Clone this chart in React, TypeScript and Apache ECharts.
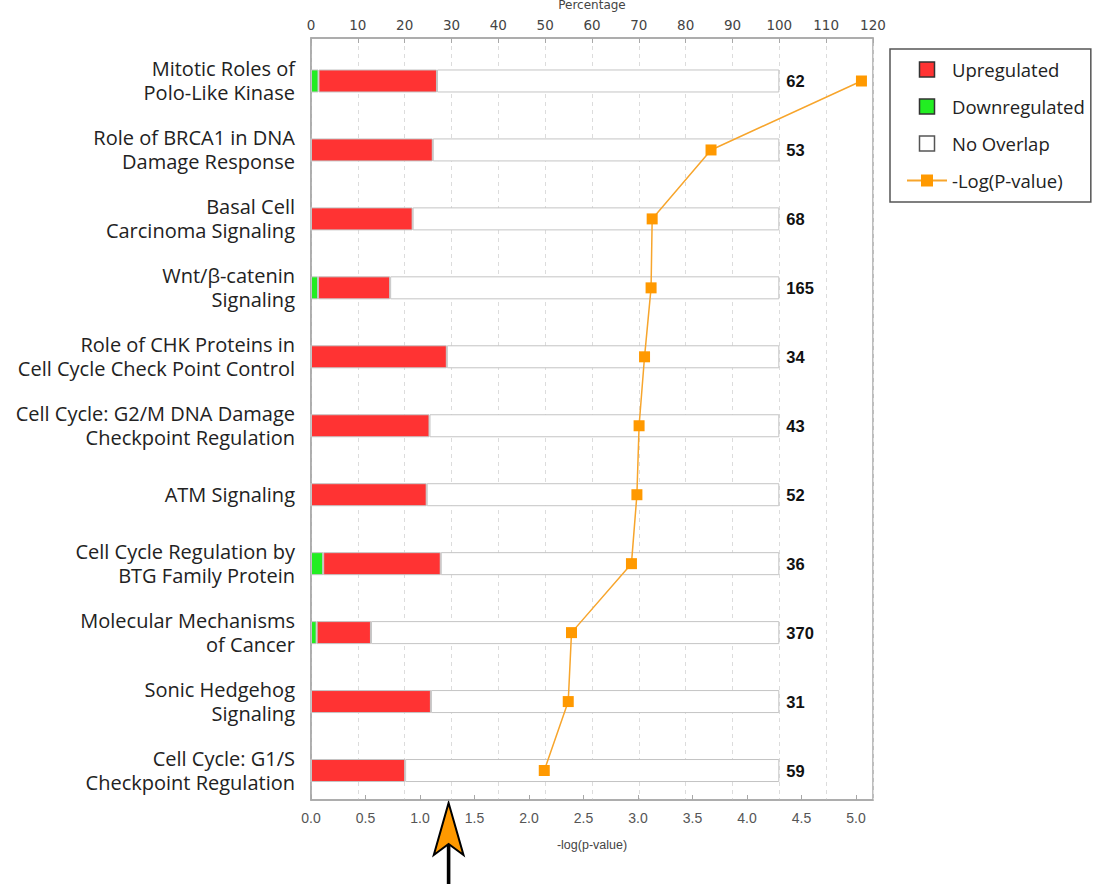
import React, { useEffect, useRef } from "react";
import * as echarts from "echarts";

const categories = [
  "Mitotic Roles of\nPolo-Like Kinase",
  "Role of BRCA1 in DNA\nDamage Response",
  "Basal Cell\nCarcinoma Signaling",
  "Wnt/β-catenin\nSignaling",
  "Role of CHK Proteins in\nCell Cycle Check Point Control",
  "Cell Cycle: G2/M DNA Damage\nCheckpoint Regulation",
  "ATM Signaling",
  "Cell Cycle Regulation by\nBTG Family Protein",
  "Molecular Mechanisms\nof Cancer",
  "Sonic Hedgehog\nSignaling",
  "Cell Cycle: G1/S\nCheckpoint Regulation",
];
const downregulated = [1.6, 0, 0, 1.5, 0, 0, 0, 2.6, 1.2, 0, 0];
const upregulated = [25.3, 26.0, 21.7, 15.4, 29.0, 25.3, 24.7, 25.1, 11.6, 25.6, 20.1];
const totals = [62, 53, 68, 165, 34, 43, 52, 36, 370, 31, 59];
const negLogP = [5.05, 3.67, 3.13, 3.12, 3.06, 3.01, 2.99, 2.94, 2.39, 2.36, 2.14];
const percentTicks = { min: 0, max: 120, interval: 10 };
const pTicks = { min: 0, max: 5.156, interval: 0.5 };

const noOverlap = upregulated.map((u, i) => +(100 - u - downregulated[i]).toFixed(2));

const FONT = "'Open Sans', 'DejaVu Sans', sans-serif";
const AXIS_GRAY = "#a8a8a8";
const BAR_BORDER = "#c4c4c4";

export default function App() {
  const ref = useRef<HTMLDivElement>(null);
  useEffect(() => {
    if (!ref.current) return;
    const chart = echarts.init(ref.current, undefined, { renderer: "svg" });
    const barStyle = (color: string) => ({ color, borderColor: BAR_BORDER, borderWidth: 1 });
    chart.setOption({
      animation: false,
      backgroundColor: "#ffffff",
      grid: [
        { left: 311, width: 562, top: 46.5, height: 758.5, containLabel: false, outerBoundsMode: "none" },
        {
          left: 311, width: 562, top: 38, height: 762, containLabel: false, outerBoundsMode: "none",
          show: true, borderColor: AXIS_GRAY, borderWidth: 1.5, backgroundColor: "transparent",
        },
      ],
      xAxis: [
        { gridIndex: 0, type: "value", min: 0, max: 120, show: false, axisLine: { onZero: false } },
        {
          gridIndex: 1, type: "value", position: "top", ...percentTicks,
          name: "Percentage", nameLocation: "middle", nameGap: 27,
          nameTextStyle: { fontFamily: "'DejaVu Sans', sans-serif", fontSize: 12, color: "#444" },
          axisLine: { show: true, onZero: false, lineStyle: { color: AXIS_GRAY, width: 1.5 } },
          axisTick: { show: true, inside: true, length: 5, lineStyle: { color: AXIS_GRAY } },
          axisLabel: { fontFamily: "'DejaVu Sans', sans-serif", fontSize: 13.5, color: "#444", margin: 6 },
          splitLine: { show: true, lineStyle: { color: "#dcdcdc", type: [4, 4], width: 1 } },
        },
        {
          gridIndex: 1, type: "value", position: "bottom", ...pTicks,
          name: "-log(p-value)", nameLocation: "middle", nameGap: 38,
          nameTextStyle: { fontFamily: "'Liberation Sans', Arial, sans-serif", fontSize: 12.5, color: "#444" },
          axisLine: { show: true, onZero: false, lineStyle: { color: AXIS_GRAY, width: 1.5 } },
          axisTick: { show: true, inside: true, length: 5, lineStyle: { color: AXIS_GRAY } },
          axisLabel: {
            fontFamily: "'Liberation Sans', Arial, sans-serif", fontSize: 14, color: "#555", margin: 11,
            showMaxLabel: false,
            formatter: (v: number) => (Math.abs(v / 0.5 - Math.round(v / 0.5)) < 1e-6 ? v.toFixed(1) : ""),
          },
          splitLine: { show: false },
        },
      ],
      yAxis: [
        {
          gridIndex: 0, type: "category", inverse: true, data: categories,
          axisLine: { show: false, onZero: false }, axisTick: { show: false },
          axisLabel: { fontFamily: FONT, fontSize: 20, lineHeight: 24, color: "#222", margin: 16 },
        },
        {
          gridIndex: 1, type: "value", inverse: true, min: -0.6236, max: 10.4275, show: true,
          axisLine: { show: true, onZero: false, lineStyle: { color: AXIS_GRAY, width: 1.5 } },
          axisTick: { show: false }, axisLabel: { show: false }, splitLine: { show: false },
        },
      ],
      legend: {
        orient: "vertical", left: 890, top: 49, padding: [11, 6, 12, 16],
        itemWidth: 40, itemHeight: 15, itemGap: 18,
        borderColor: "#555", borderWidth: 1.5, backgroundColor: "#fff",
        selectedMode: false,
        textStyle: { fontFamily: FONT, fontSize: 18.5, color: "#222" },
        data: [
          { name: "Upregulated", icon: "path://M0,0h10v10h-10z", itemStyle: { color: "#ff3333", borderColor: "#333", borderWidth: 1.5 } },
          { name: "Downregulated", icon: "path://M0,0h10v10h-10z", itemStyle: { color: "#22ee22", borderColor: "#333", borderWidth: 1.5 } },
          { name: "No Overlap", icon: "path://M0,0h10v10h-10z", itemStyle: { color: "#ffffff", borderColor: "#555", borderWidth: 1.5 } },
          { name: "-Log(P-value)" },
        ],
      },
      series: [
        {
          name: "Downregulated", type: "bar", stack: "pct", xAxisIndex: 0, yAxisIndex: 0,
          barWidth: 23, data: downregulated, itemStyle: barStyle("#22ee22"),
        },
        {
          name: "Upregulated", type: "bar", stack: "pct", xAxisIndex: 0, yAxisIndex: 0,
          barWidth: 23, data: upregulated, itemStyle: barStyle("#ff3333"),
        },
        {
          name: "No Overlap", type: "bar", stack: "pct", xAxisIndex: 0, yAxisIndex: 0,
          barWidth: 23, data: noOverlap, itemStyle: barStyle("#ffffff"),
          label: {
            show: true, position: "right", distance: 7,
            formatter: (p: any) => String(totals[p.dataIndex]),
            fontFamily: "'Liberation Sans', Arial, sans-serif", fontWeight: "bold", fontSize: 16.5, color: "#111",
          },
        },
        {
          name: "-Log(P-value)", type: "line", xAxisIndex: 2, yAxisIndex: 1,
          data: negLogP.map((v, i) => [v, i]),
          symbol: "rect", symbolSize: 11,
          lineStyle: { color: "#f7a52c", width: 1.5 },
          itemStyle: { color: "#ff9900" },
          z: 5,
        },
      ],
      graphic: [
        {
          type: "group",
          children: [
            { type: "rect", shape: { x: 446.8, y: 842, width: 3.6, height: 50 }, style: { fill: "#000" } },
            {
              type: "polygon",
              shape: { points: [[448.6, 803], [463.5, 855], [448.6, 844], [433.8, 855]] },
              style: { fill: "#ff9900", stroke: "#000", lineWidth: 2, lineJoin: "miter" },
            },
          ],
        },
      ],
    });
    return () => chart.dispose();
  }, []);
  return (
    <div
      ref={ref}
      style={{ position: "absolute", left: 0, top: 0, width: 1097, height: 884 }}
    />
  );
}
